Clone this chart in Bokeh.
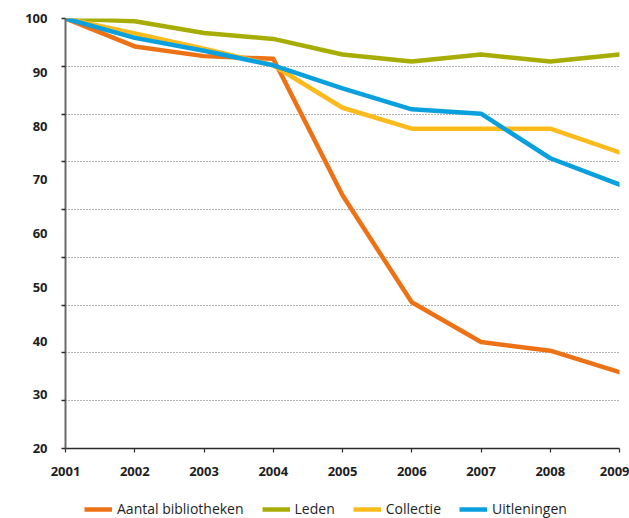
from bokeh.plotting import figure
from bokeh.layouts import column
from bokeh.models import (Range1d, FixedTicker, LinearAxis, Legend, LegendItem,
                          CustomJSTickFormatter)
from bokeh.embed import file_html
from bokeh.resources import INLINE

# ---- data ----
years = [2001, 2002, 2003, 2004, 2005, 2006, 2007, 2008, 2009]
aantal_bibliotheken = [100, 94.8, 93.0, 92.5, 67.1, 47.2, 39.8, 38.2, 34.2]
leden = [100, 99.5, 97.3, 96.2, 93.3, 92.0, 93.3, 92.0, 93.3]
collectie = [100, 97.2, 94.4, 91.3, 83.4, 79.5, 79.5, 79.5, 75.1]
uitleningen = [100, 96.4, 94.0, 91.3, 87.0, 83.1, 82.3, 74.0, 69.1]

series_names = ["Aantal bibliotheken", "Leden", "Collectie", "Uitleningen"]
series_values = [aantal_bibliotheken, leden, collectie, uitleningen]
series_colors = ["#EC7215", "#A8AD06", "#FBBB1C", "#0A9FDD"]

y_label_ticks = [20, 30, 40, 50, 60, 70, 80, 90, 100]
y_min, y_max = 20, 100
n_grid_intervals = 9  # the original draws 9 dotted intervals for 8 labelled ones
grid_ticks = [y_min + k * (y_max - y_min) / n_grid_intervals for k in range(n_grid_intervals + 1)]

FONT = "Open Sans"
TEXT = "#1e1e1e"
LINE_W = 4.5

p = figure(frame_width=554, frame_height=430, output_backend="svg",
           toolbar_location=None, x_range=Range1d(years[0], years[-1]),
           y_range=Range1d(y_min, y_max), min_border_left=65, min_border_top=18,
           min_border_right=10, min_border_bottom=40)
p.outline_line_color = None
p.background_fill_color = "white"
p.border_fill_color = "white"

# x axis
xa = p.xaxis[0]
xa.ticker = FixedTicker(ticks=years)
xa.formatter = CustomJSTickFormatter(code="return String(tick)")
xa.axis_line_color = "#2b2b2b"
xa.axis_line_width = 1.5
xa.major_tick_line_color = "#2b2b2b"
xa.major_tick_line_width = 1.2
xa.major_tick_in = 0
xa.major_tick_out = 4
xa.minor_tick_line_color = None
xa.major_label_standoff = 14
xa.major_label_text_font = FONT
xa.major_label_text_font_style = "bold"
xa.major_label_text_font_size = "13px"
xa.major_label_text_color = TEXT

# y axis with tick marks at the dotted grid positions (no labels)
ya = p.yaxis[0]
ya.ticker = FixedTicker(ticks=grid_ticks)
ya.formatter = CustomJSTickFormatter(code="return ''")
ya.axis_line_color = "#6a6a6a"
ya.axis_line_width = 2
ya.major_tick_line_color = "#2b2b2b"
ya.major_tick_line_width = 1.5
ya.major_tick_in = 0
ya.major_tick_out = 4
ya.minor_tick_line_color = None
ya.major_label_standoff = 0
ya.major_label_text_font_size = "1px"

# y axis holding the labels
yl = LinearAxis(ticker=FixedTicker(ticks=y_label_ticks))
yl.axis_line_color = None
yl.major_tick_line_color = None
yl.minor_tick_line_color = None
yl.major_tick_in = 0
yl.major_tick_out = 0
yl.major_label_standoff = 14
yl.major_label_text_font = FONT
yl.major_label_text_font_style = "bold"
yl.major_label_text_font_size = "13px"
yl.major_label_text_color = TEXT
p.add_layout(yl, "left")

p.xgrid.grid_line_color = None
p.ygrid.ticker = FixedTicker(ticks=grid_ticks)
p.ygrid.grid_line_color = "#666666"
p.ygrid.grid_line_dash = "1 2"
p.ygrid.grid_line_width = 1

for vals, col in zip(series_values, series_colors):
    p.line(years, vals, line_color=col, line_width=LINE_W,
           line_join="round", line_cap="round")

# legend strip below the chart (its own lines lie outside its visible range)
p2 = figure(width=629, height=30, output_backend="svg", toolbar_location=None,
            x_range=Range1d(0, 1), y_range=Range1d(0, 1),
            x_axis_location=None, y_axis_location=None, min_border=0)
p2.outline_line_color = None
p2.grid.grid_line_color = None
p2.background_fill_color = "white"
p2.border_fill_color = "white"
items = []
for name, vals, col in zip(series_names, series_values, series_colors):
    r = p2.line(years, vals, line_color=col, line_width=LINE_W)
    items.append(LegendItem(label=name, renderers=[r]))

legend = Legend(items=items, orientation="horizontal", location=(19, 0))
legend.glyph_width = 28
legend.glyph_height = 16
legend.label_standoff = 5
legend.spacing = 18
legend.padding = 0
legend.margin = 0
legend.border_line_color = None
legend.background_fill_alpha = 0
legend.label_text_font = FONT
legend.label_text_font_size = "14px"
legend.label_text_color = TEXT
p2.add_layout(legend, "center")

layout = column(p, p2, spacing=0)
open("out.html", "w").write(file_html(layout, INLINE))
